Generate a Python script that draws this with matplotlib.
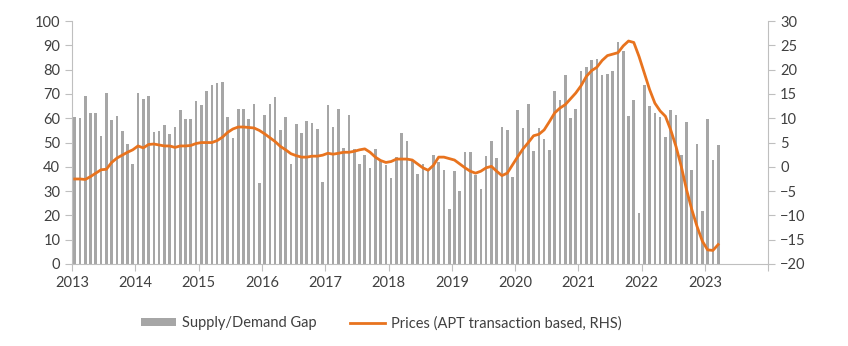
import numpy as np
import matplotlib.pyplot as plt
from matplotlib.patches import Patch
from matplotlib.lines import Line2D

plt.rcParams['font.family'] = ['Lato', 'DejaVu Sans']
plt.rcParams['font.size'] = 10.5

# monthly data, Jan 2013 - Mar 2023
gap = [
    60.6, 60.3, 69, 62, 62, 52.6, 70.2, 59.2, 61, 54.8, 49.4, 41,          # 2013
    70.2, 68, 69.3, 54.5, 54.8, 57.2, 53.6, 56.3, 63.4, 59.8, 59.5, 67,    # 2014
    65.3, 71.3, 73.6, 74.4, 74.8, 60.6, 52, 64, 64, 59.5, 66, 33.3,        # 2015
    61.3, 66, 68.6, 55, 60.5, 41.3, 57.6, 53.9, 59, 58, 55.5, 33.8,        # 2016
    65.6, 56.3, 64, 47.7, 61.3, 47.5, 41, 45, 39.5, 47.3, 42.2, 40.9,      # 2017
    35.6, 44, 53.9, 50.7, 42.2, 37.2, 41.3, 38.1, 45, 41.8, 38.8, 22.8,    # 2018
    38.4, 29.9, 46.1, 46.1, 36.7, 30.9, 44.3, 50.5, 43.6, 56.6, 55.3, 35.8,  # 2019
    63.5, 56, 65.8, 46.6, 56, 51.6, 47, 71.4, 67.6, 77.9, 60, 64,          # 2020
    79.3, 80.9, 84.1, 84.4, 78, 78.3, 79.3, 91.2, 87.5, 61, 67.6, 21,      # 2021
    73.8, 64.9, 62.1, 60.7, 52.3, 63.2, 61.2, 45, 58.3, 38.5, 49.5, 21.9,  # 2022
    59.7, 42.9, 49.1,                                                      # 2023
]
prices = [
    -2.5, -2.5, -2.6, -2.0, -1.3, -0.6, -0.5, 0.9, 1.8, 2.4, 3.0, 3.5,
    4.3, 3.9, 4.6, 4.7, 4.5, 4.3, 4.3, 4.0, 4.3, 4.3, 4.4, 4.8,
    5.0, 5.0, 5.0, 5.4, 6.1, 7.1, 7.8, 8.2, 8.2, 8.1, 8.0, 7.5,
    6.8, 6.0, 5.2, 4.2, 3.5, 2.7, 2.3, 2.0, 2.0, 2.2, 2.2, 2.4,
    2.8, 2.6, 2.8, 3.0, 3.0, 3.2, 3.5, 3.7, 3.0, 2.0, 1.3, 0.9,
    1.1, 1.6, 1.6, 1.6, 1.4, 0.6, -0.2, -0.7, 0.3, 2.0, 2.0, 1.7,
    1.4, 0.6, -0.2, -0.9, -1.3, -0.9, -0.2, 0.1, -0.9, -1.8, -1.3, 0.4,
    2.1, 3.7, 5.0, 6.4, 6.7, 7.6, 9.3, 11.1, 12.1, 12.8, 14.0, 15.2,
    16.7, 18.6, 19.8, 20.5, 21.9, 22.9, 23.2, 23.5, 24.9, 25.9, 25.6, 22.7,
    19.3, 15.9, 13.1, 11.5, 10.4, 7.6, 4.2, 0.1, -4.7, -8.8, -12.3, -15.3,
    -17.1, -17.2, -16.0,
]
years = list(range(2013, 2025))
year_labels = [str(y) for y in years[:-1]] + ['']

x = 2013 + (np.arange(len(gap)) + 0.5) / 12

grey = '#a6a6a6'
orange = '#e8731e'
axis_col = '#bfbfbf'
text_col = '#404040'

fig = plt.figure(figsize=(8.48, 3.46), dpi=100)
ax = fig.add_axes([0.085, 0.237, 0.821, 0.702])
ax.bar(x, gap, width=0.5 / 12, color=grey, linewidth=0)
ax.set_ylim(0, 100)
ax.set_yticks(range(0, 101, 10))
ax.set_xlim(2013, 2024)
ax.set_xticks(years)
ax.set_xticklabels(year_labels)

ax2 = ax.twinx()
ax2.plot(x, prices, color=orange, linewidth=2)
ax2.set_ylim(-20, 30)
ax2.set_yticks(range(-20, 31, 5))

for a in (ax, ax2):
    a.spines['top'].set_visible(False)
    for s in ('left', 'right', 'bottom'):
        a.spines[s].set_color(axis_col)
    a.tick_params(colors=axis_col, labelcolor=text_col, length=5, labelsize=10.5)
ax.spines['right'].set_visible(False)
ax2.spines['left'].set_visible(False)
ax2.spines['bottom'].set_visible(False)

handles = [Patch(facecolor=grey, edgecolor='none'),
           Line2D([0], [0], color=orange, linewidth=2)]
fig.legend(handles, ['Supply/Demand Gap', 'Prices (APT transaction based, RHS)'],
           loc='center', bbox_to_anchor=(0.45, 0.066), ncol=2, frameon=False,
           handlelength=2.4, handleheight=0.5, columnspacing=2.3, handletextpad=0.4,
           labelcolor=text_col, fontsize=10.5)

fig.savefig('out.png', dpi=100)
